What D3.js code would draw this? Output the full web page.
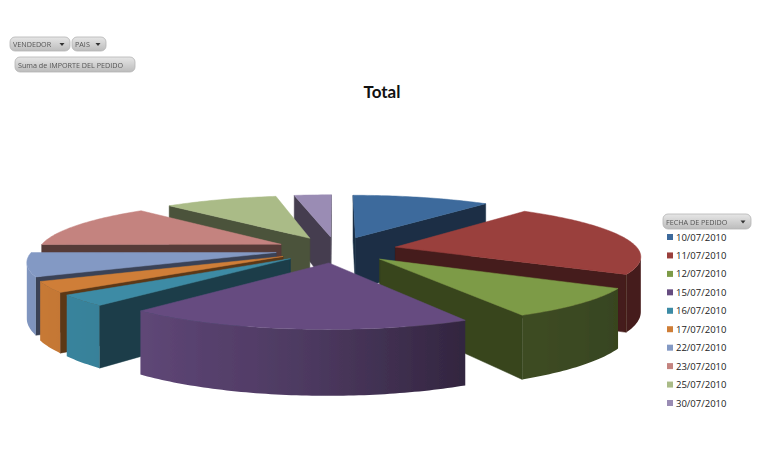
<!DOCTYPE html>
<html><head><meta charset="utf-8">
<script src="https://cdn.jsdelivr.net/npm/d3@7"></script>
<style>html,body{margin:0;padding:0;background:#fff}svg{display:block}</style>
</head><body><script>
const fechas=["10/07/2010","11/07/2010","12/07/2010","15/07/2010","16/07/2010","17/07/2010","22/07/2010","23/07/2010","25/07/2010","30/07/2010"];
const importes=[10.8,22.5,9.0,19.2,3.3,3.2,7.1,13.3,8.9,2.9];
const colores=["#3d6a9c","#9a3f3c","#7d9b47","#664c80","#3c8ba5","#cf7e37","#8399c4","#c4837f","#aabb87","#9a8cb4"];
const filtros=["VENDEDOR","PAIS"];
const campoValor="Suma de IMPORTE DEL PEDIDO";
const campoLeyenda="FECHA DE PEDIDO";
const titulo="Total";

const W=766,H=467;
const svg=d3.select("body").append("svg").attr("width",W).attr("height",H);
const defs=svg.append("defs");
const grad=defs.append("linearGradient").attr("id","btn").attr("x1",0).attr("x2",0).attr("y1",0).attr("y2",1);
grad.append("stop").attr("offset","0%").attr("stop-color","#e6e6e6");
grad.append("stop").attr("offset","100%").attr("stop-color","#bcbcbc");
defs.append("filter").attr("id","soft").append("feGaussianBlur").attr("stdDeviation",0.35);

// projection of the pie plane: unit disc, exploded, with perspective
const explode=0.25,persp=0.15,depth=54;
const xS=d3.scaleLinear().domain([-1,1]).range([336-243,336+243]);
const yS=d3.scaleLinear().domain([-1,1]).range([249.5+52,249.5-52]);
const wallShade=d3.scaleLinear().domain([120,152,165,185,221,270]).range([.44,.49,.6,.76,.93,1]).clamp(true);
const radialShade=0.44;
function project(u,v,drop){
  const s=1/(1+persp*v);
  return [xS(u*s),yS(v*s)+(drop?depth*s:0)];
}
const pie=d3.pie().sort(null).value(d=>d).startAngle(0).endAngle(2*Math.PI);
const arcs=pie(importes).map((d,i)=>{
  const mid=(d.startAngle+d.endAngle)/2;
  return {i,a0:d.startAngle,a1:d.endAngle,mid,ox:explode*Math.sin(mid),oy:explode*Math.cos(mid)};
});
const line=d3.line().curve(d3.curveLinearClosed);
const gPie=svg.append("g").attr("filter","url(#soft)");
arcs.sort((a,b)=>d3.descending(Math.cos(a.mid),Math.cos(b.mid))).forEach(s=>{
  const shade=k=>{const c=d3.rgb(colores[s.i]);return d3.rgb(c.r*k,c.g*k,c.b*k).formatHex();};
  const rim=(t,drop)=>project(s.ox+Math.sin(t),s.oy+Math.cos(t),drop);
  const apex=drop=>project(s.ox,s.oy,drop);
  const g=gPie.append("g");
  const wall=(pts,fill)=>g.append("path").attr("d",line(pts)).attr("fill",fill).attr("stroke",fill).attr("stroke-width",.5);
  const r0=rim(s.a0),r1=rim(s.a1),ap=apex();
  if(r0[0]<ap[0]) wall([ap,r0,rim(s.a0,true),apex(true)],shade(radialShade));
  if(ap[0]<r1[0]) wall([r1,ap,apex(true),rim(s.a1,true)],shade(radialShade));
  // outer curved wall: only the part of the rim running right-to-left faces the viewer
  const n=Math.max(4,Math.ceil((s.a1-s.a0)/(Math.PI/180)));
  const ts=d3.range(n+1).map(k=>s.a0+(s.a1-s.a0)*k/n);
  const vis=ts.filter((t,k)=>{
    const prev=k>0&&rim(ts[k-1])[0]>rim(t)[0];
    const next=k<n&&rim(t)[0]>rim(ts[k+1])[0];
    return prev||next;
  });
  if(vis.length>1){
    const xs=vis.map(t=>rim(t)[0]);
    const x0=d3.min(xs),x1=d3.max(xs);
    const id="wall"+s.i;
    const lg=defs.append("linearGradient").attr("id",id).attr("gradientUnits","userSpaceOnUse")
      .attr("x1",x0).attr("x2",x1).attr("y1",0).attr("y2",0);
    vis.slice().reverse().forEach(t=>{
      lg.append("stop").attr("offset",(rim(t)[0]-x0)/Math.max(1,x1-x0))
        .attr("stop-color",shade(wallShade(t*180/Math.PI)));
    });
    g.append("path").attr("d",line([...vis.map(t=>rim(t)),...vis.slice().reverse().map(t=>rim(t,true))]))
      .attr("fill",`url(#${id})`);
  }
  g.append("path").attr("d",line([ap,...ts.map(t=>rim(t))])).attr("fill",colores[s.i]).attr("stroke",colores[s.i]).attr("stroke-width",.5);
});

// title
svg.append("text").attr("x",382).attr("y",98).attr("text-anchor","middle")
  .attr("font-family","Lato, 'Open Sans', sans-serif").attr("font-weight",700).attr("font-size",17).attr("fill","#111").text(titulo);

// pivot-field buttons
function boton(x,y,w,h,label,arrow){
  const g=svg.append("g").attr("filter","url(#soft)");
  g.append("rect").attr("x",x).attr("y",y).attr("width",w).attr("height",h).attr("rx",5)
    .attr("fill","url(#btn)").attr("stroke","#b4b4b4").attr("stroke-width",.8);
  g.append("text").attr("x",x+3).attr("y",y+h/2+3).attr("font-family","'Open Sans', sans-serif")
    .attr("font-size",7.2).attr("fill","#555").text(label);
  if(arrow){
    const ax=x+w-8,ay=y+h/2-1;
    g.append("path").attr("d",`M${ax-2.5},${ay}L${ax+2.5},${ay}L${ax},${ay+3}Z`).attr("fill","#333");
  }
}
boton(10,37,60,14,filtros[0],true);
boton(72,37,34,14,filtros[1],true);
boton(15,57,120,15,campoValor,false);
boton(663,214,88,15,campoLeyenda,true);

// legend
const yLeg=d3.scalePoint().domain(fechas).range([237,403]);
const leg=svg.append("g").selectAll("g").data(fechas).join("g");
leg.append("rect").attr("x",667).attr("y",d=>yLeg(d)-3).attr("width",6).attr("height",6)
  .attr("fill",(d,i)=>colores[i]);
leg.append("text").attr("x",676).attr("y",d=>yLeg(d)+3.5).attr("font-family","'Open Sans', sans-serif")
  .attr("font-size",9.5).attr("fill","#222").text(d=>d);
</script></body></html>
